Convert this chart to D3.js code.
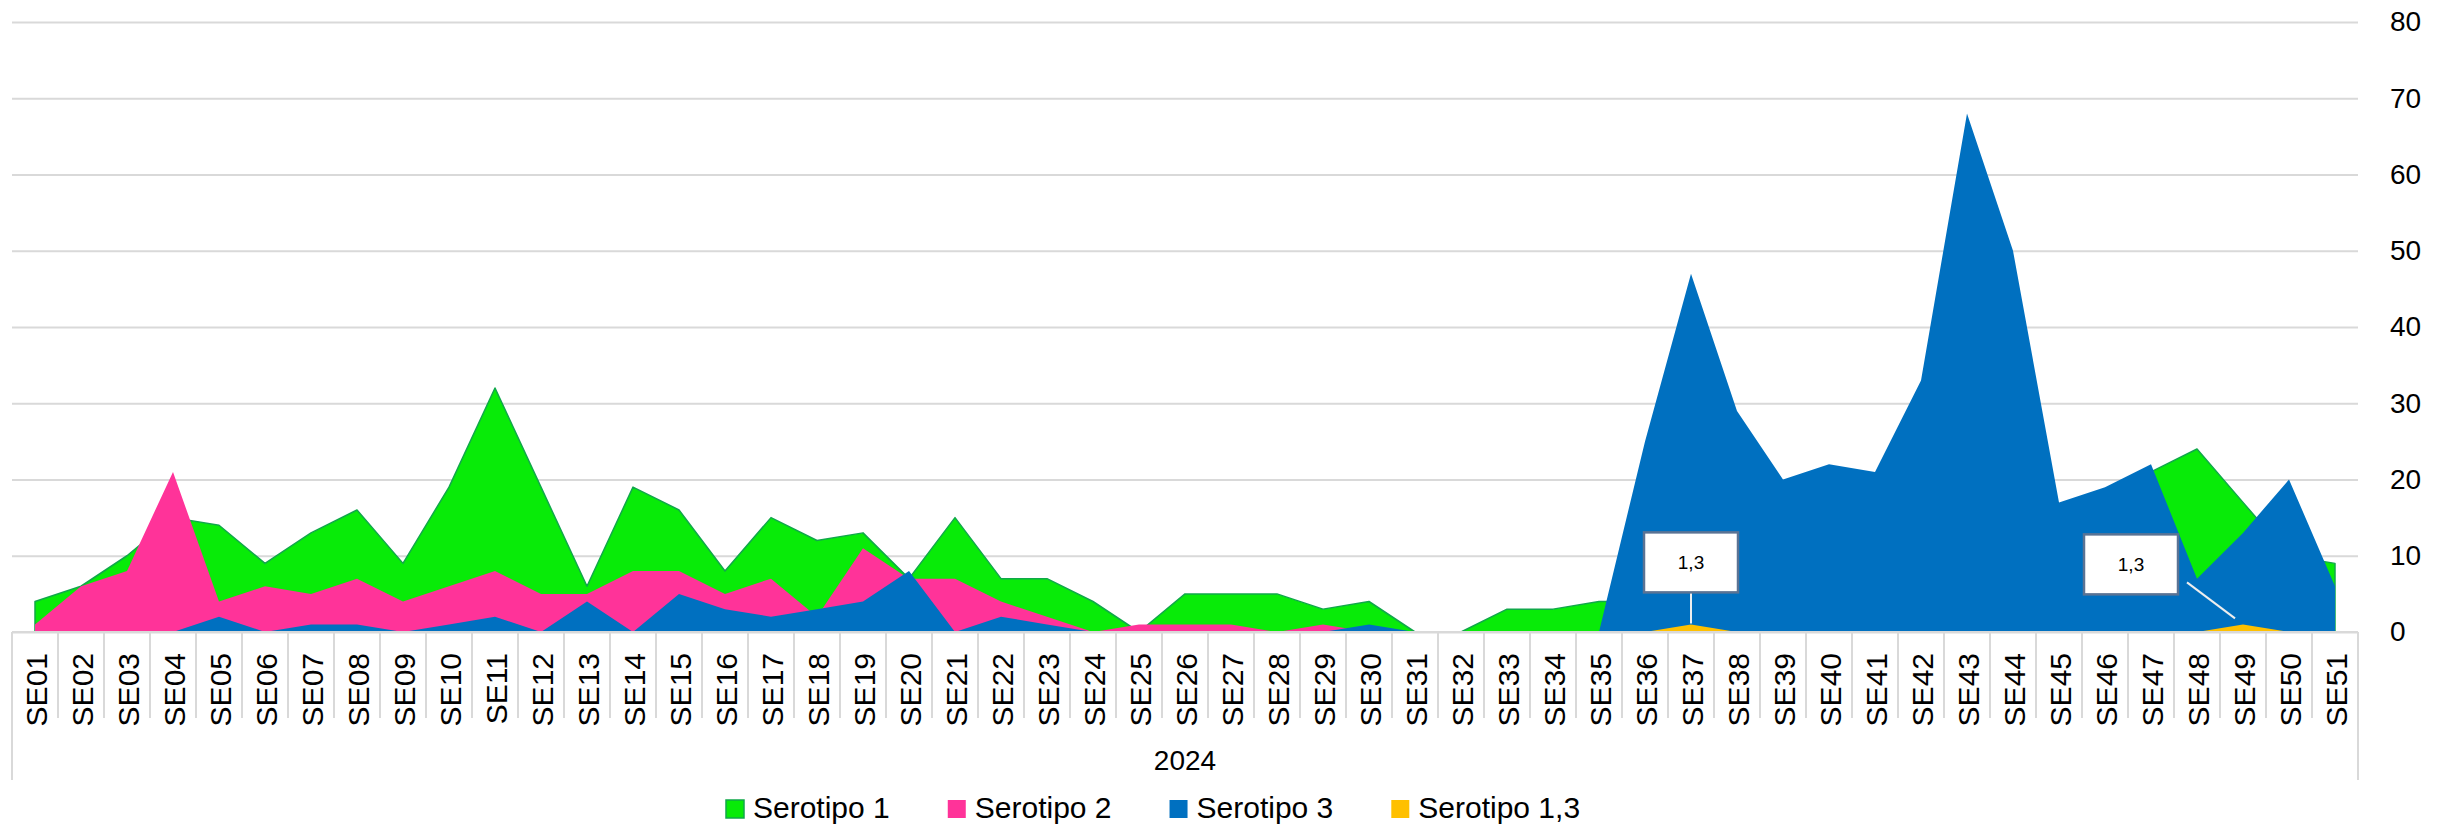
<!DOCTYPE html>
<html>
<head>
<meta charset="utf-8">
<script src="https://cdn.jsdelivr.net/npm/d3@7"></script>
<style>
  body { margin: 0; background: #fff; }
  svg { display: block; }
</style>
</head>
<body>
<div id="chart"></div>
<script>
// Categories (epidemiological weeks of 2024)
const weeks = ["SE01","SE02","SE03","SE04","SE05","SE06","SE07","SE08","SE09","SE10",
  "SE11","SE12","SE13","SE14","SE15","SE16","SE17","SE18","SE19","SE20",
  "SE21","SE22","SE23","SE24","SE25","SE26","SE27","SE28","SE29","SE30",
  "SE31","SE32","SE33","SE34","SE35","SE36","SE37","SE38","SE39","SE40",
  "SE41","SE42","SE43","SE44","SE45","SE46","SE47","SE48","SE49","SE50","SE51"];
const yearLabel = "2024";

// Series values
const serotipo1 = [4, 6, 10, 15, 14, 9, 13, 16, 9, 19,
  32, 19, 6, 19, 16, 8, 15, 12, 13, 7,
  15, 7, 7, 4, 0, 5, 5, 5, 3, 4,
  0, 0, 3, 3, 4, 4, 7, 9, 8, 12,
  11, 14, 16, 13, 15, 18, 21, 24, 17, 10, 9];
const serotipo2 = [1, 6, 8, 21, 4, 6, 5, 7, 4, 6,
  8, 5, 5, 8, 8, 5, 7, 2, 11, 7,
  7, 4, 2, 0, 1, 1, 1, 0, 1, 0,
  0, 0, 0, 0, 0, 0, 0, 0, 0, 0,
  0, 0, 0, 0, 0, 0, 0, 0, 0, 0, 0];
const serotipo3 = [0, 0, 0, 0, 2, 0, 1, 1, 0, 1,
  2, 0, 4, 0, 5, 3, 2, 3, 4, 8,
  0, 2, 1, 0, 0, 0, 0, 0, 0, 1,
  0, 0, 0, 0, 0, 25, 47, 29, 20, 22,
  21, 33, 68, 50, 17, 19, 22, 7, 13, 20, 6];
const serotipo13 = [0, 0, 0, 0, 0, 0, 0, 0, 0, 0,
  0, 0, 0, 0, 0, 0, 0, 0, 0, 0,
  0, 0, 0, 0, 0, 0, 0, 0, 0, 0,
  0, 0, 0, 0, 0, 0, 1, 0, 0, 0,
  0, 0, 0, 0, 0, 0, 0, 0, 1, 0, 0];

const yTicks = [0, 10, 20, 30, 40, 50, 60, 70, 80];

// Dimensions
const margin = { top: 22, right: 90, bottom: 194, left: 12 },
      width = 2448 - margin.left - margin.right,
      height = 826 - margin.top - margin.bottom;

const svg = d3.select("#chart")
    .append("svg")
    .attr("width", 2448)
    .attr("height", 826);

const g = svg.append("g")
    .attr("transform", `translate(${margin.left},${margin.top})`);

const x = d3.scaleBand()
    .domain(weeks)
    .range([0, width])
    .padding(0);

const y = d3.scaleLinear()
    .domain([0, 80])
    .range([height, 0]);

const cx = w => x(w) + x.bandwidth() / 2;

// Gridlines + right-side value labels
const yAxis = g.append("g")
    .attr("transform", `translate(${width},0)`)
    .call(d3.axisRight(y).tickValues(yTicks).tickSize(-width).tickPadding(32));
yAxis.select(".domain").remove();
yAxis.selectAll("line").attr("stroke", "#d9d9d9").attr("stroke-width", 2);
yAxis.selectAll("text")
    .attr("fill", "#000")
    .style("font-family", "'Liberation Sans', Arial, sans-serif")
    .style("font-size", "28px");

// Overlapping areas, drawn in series order
const series = [
  { name: "Serotipo 1", values: serotipo1, color: "#08eb08", stroke: "#10a84a" },
  { name: "Serotipo 2", values: serotipo2, color: "#ff3399", stroke: null },
  { name: "Serotipo 3", values: serotipo3, color: "#0070c0", stroke: null },
  { name: "Serotipo 1,3", values: serotipo13, color: "#ffc000", stroke: null }
];

const area = d3.area()
    .x((d, i) => cx(weeks[i]))
    .y0(height)
    .y1(d => y(d));

g.selectAll(".area")
    .data(series)
    .enter()
    .append("path")
    .attr("class", "area")
    .attr("d", d => area(d.values))
    .attr("fill", d => d.color)
    .attr("stroke", d => d.stroke || "none")
    .attr("stroke-width", 1.5)
    .attr("stroke-linejoin", "round");

// Category axis: baseline, cell separators and rotated labels
g.append("line")
    .attr("x1", 0).attr("x2", width)
    .attr("y1", height).attr("y2", height)
    .attr("stroke", "#d9d9d9").attr("stroke-width", 2);

const edges = weeks.map(w => x(w)).concat([width]);
g.selectAll(".sep")
    .data(edges)
    .enter()
    .append("line")
    .attr("class", "sep")
    .attr("x1", d => d).attr("x2", d => d)
    .attr("y1", height)
    .attr("y2", (d, i) => (i === 0 || i === edges.length - 1) ? height + 148 : height + 86)
    .attr("stroke", "#d9d9d9").attr("stroke-width", 2);

g.selectAll(".wk")
    .data(weeks)
    .enter()
    .append("text")
    .attr("class", "wk")
    .attr("transform", d => `translate(${cx(d) + 1},${height + 21}) rotate(-90)`)
    .attr("dy", "0.35em")
    .attr("text-anchor", "end")
    .style("font-family", "'Liberation Sans Narrow', 'Arial Narrow', 'Liberation Sans', sans-serif")
    .style("font-size", "30px")
    .text(d => d);

g.append("text")
    .attr("x", width / 2)
    .attr("y", height + 138)
    .attr("text-anchor", "middle")
    .style("font-family", "'Liberation Sans', Arial, sans-serif")
    .style("font-size", "28px")
    .text(yearLabel);

// Data labels "1,3" on the Serotipo 1,3 points
const labelPlacement = [
  { dx: 0, dy: -62, line: [[0, -33], [0, -1]] },
  { dx: -112, dy: -60, line: [[-56, -42], [-8, -6]] }
];
const labelled = weeks.map((w, i) => ({ w, v: serotipo13[i] })).filter(d => d.v > 0);
labelled.forEach((d, k) => {
  const p = labelPlacement[k];
  const px = cx(d.w), py = y(d.v);
  g.append("line")
      .attr("x1", px + p.line[0][0]).attr("y1", py + p.line[0][1])
      .attr("x2", px + p.line[1][0]).attr("y2", py + p.line[1][1])
      .attr("stroke", "#eeeeee").attr("stroke-width", 2);
  g.append("rect")
      .attr("x", px + p.dx - 47).attr("y", py + p.dy - 30)
      .attr("width", 94).attr("height", 60)
      .attr("fill", "#fff")
      .attr("stroke", "#5a7394").attr("stroke-width", 2.5);
  g.append("text")
      .attr("x", px + p.dx).attr("y", py + p.dy)
      .attr("dy", "0.35em")
      .attr("text-anchor", "middle")
      .style("font-family", "'Liberation Sans', Arial, sans-serif")
      .style("font-size", "19px")
      .text("1,3");
});

// Legend
const legend = svg.append("g").attr("transform", "translate(726,800)");
let lx = 0;
series.forEach(s => {
  legend.append("rect")
      .attr("x", lx).attr("y", 0)
      .attr("width", 18).attr("height", 18)
      .attr("fill", s.color)
      .attr("stroke", s.stroke || "none").attr("stroke-width", 1.5);
  const t = legend.append("text")
      .attr("x", lx + 27).attr("y", 18)
      .style("font-family", "'Liberation Sans', Arial, sans-serif")
      .style("font-size", "30px")
      .text(s.name);
  lx += 27 + t.node().getComputedTextLength() + 58;
});
</script>
</body>
</html>
